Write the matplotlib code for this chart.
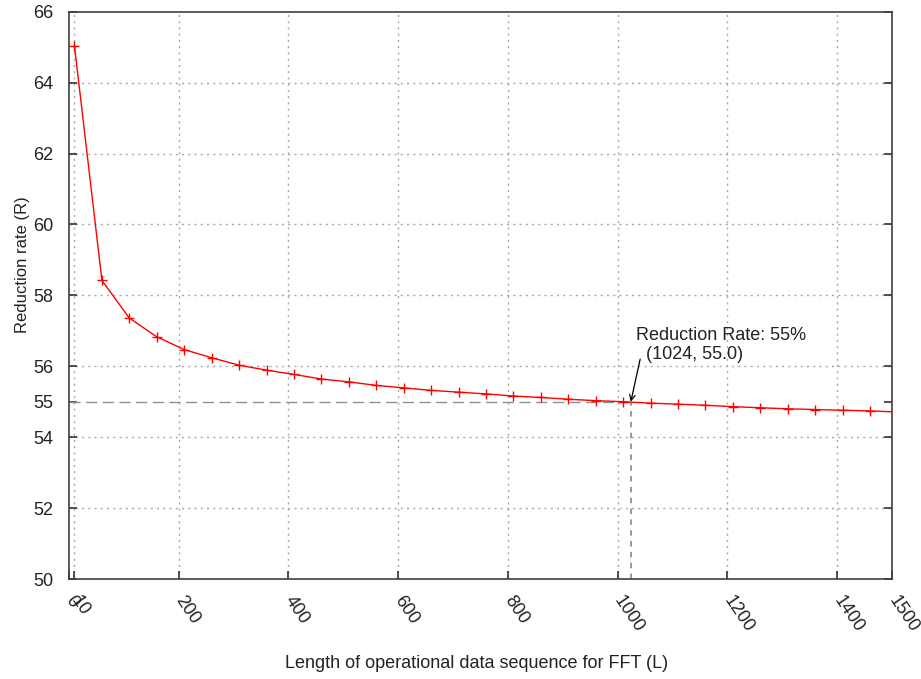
import matplotlib
matplotlib.use("Agg")
import matplotlib.pyplot as plt

plt.rcParams['font.family'] = ['Liberation Sans', 'DejaVu Sans']

# FFT sequence length L and the resulting reduction rate R (%)
lengths = [10, 60, 110, 160, 210, 260, 310, 360, 410, 460, 510, 560, 610,
           660, 710, 760, 810, 860, 910, 960, 1010, 1060, 1110, 1160, 1210,
           1260, 1310, 1360, 1410, 1460, 1510]
rates = [65.03, 58.42, 57.36, 56.83, 56.47, 56.24, 56.03, 55.89, 55.77,
         55.64, 55.56, 55.46, 55.39, 55.32, 55.27, 55.22, 55.16, 55.12,
         55.07, 55.03, 55.00, 54.96, 54.93, 54.90, 54.86, 54.83, 54.80,
         54.78, 54.76, 54.74, 54.71]

# Highlighted operating point
sel_L = 1024
sel_R = 55.0

x_ticks = [0, 10, 200, 400, 600, 800, 1000, 1200, 1400, 1500]
y_ticks = [50, 52, 54, 55, 56, 58, 60, 62, 64, 66]

fig = plt.figure(figsize=(9.21, 6.79), dpi=100)
ax = fig.add_axes([69 / 921, 1 - 579 / 679, (892 - 69) / 921, (579 - 11.7) / 679])

ax.set_xlim(0, 1500)
ax.set_ylim(50, 66)

# Grid (dotted gray) except at axis borders
grid_kw = dict(color='#a8a8a8', linestyle=(0, (1.5, 3)), linewidth=1.0, zorder=1)
for xv in x_ticks:
    if 0 < xv < 1500:
        ax.axvline(xv, **grid_kw)
for yv in y_ticks:
    if 50 < yv < 66 and yv != sel_R:
        ax.axhline(yv, **grid_kw)

# Reference lines to the highlighted point
ax.plot([0, sel_L], [sel_R, sel_R], color='#909090', linestyle=(0, (8, 4)),
        linewidth=1.0, zorder=2)
ax.plot([sel_L, sel_L], [50, sel_R], color='#909090', linestyle=(0, (3, 3)),
        linewidth=1.3, zorder=2)

ax.plot(lengths, rates, color='red', linewidth=1.0, marker='+',
        markersize=6.5, markeredgewidth=1.0, zorder=3, clip_on=True)

# Label and arrow for the highlighted point
ax.text(1033, 57.1, 'Reduction Rate: 55%\n  (1024, 55.0)', fontsize=13,
        ha='left', va='top', linespacing=1.15, color='#222222', zorder=4)
ax.annotate('', xy=(sel_L, sel_R), xytext=(1041, 56.2), textcoords='data',
            arrowprops=dict(arrowstyle='->', color='black', lw=0.9,
                            shrinkA=0, shrinkB=0), zorder=4)

ax.set_xticks(x_ticks)
ax.set_xticklabels([str(v) for v in x_ticks], rotation=-56, ha='left',
                   va='center', rotation_mode='anchor', fontsize=13,
                   color='#222222')
ax.set_yticks(y_ticks)
ax.set_yticklabels([str(v) for v in y_ticks], fontsize=13, color='#222222')

ax.tick_params(axis='both', direction='in', length=6, width=1.2,
               color='#333333')
ax.tick_params(axis='y', right=True, pad=11.5)
ax.tick_params(axis='x', pad=13.5)

for s in ax.spines.values():
    s.set_color('#404040')
    s.set_linewidth(1.2)

fig.text(477 / 921, 1 - 663 / 679, 'Length of operational data sequence for FFT (L)',
         ha='center', va='center', fontsize=13, color='#222222')
fig.text(22 / 921, 1 - 265 / 679, 'Reduction rate (R)', ha='center',
         va='center', rotation=90, fontsize=12, color='#222222')

fig.savefig('out.png', dpi=100)
